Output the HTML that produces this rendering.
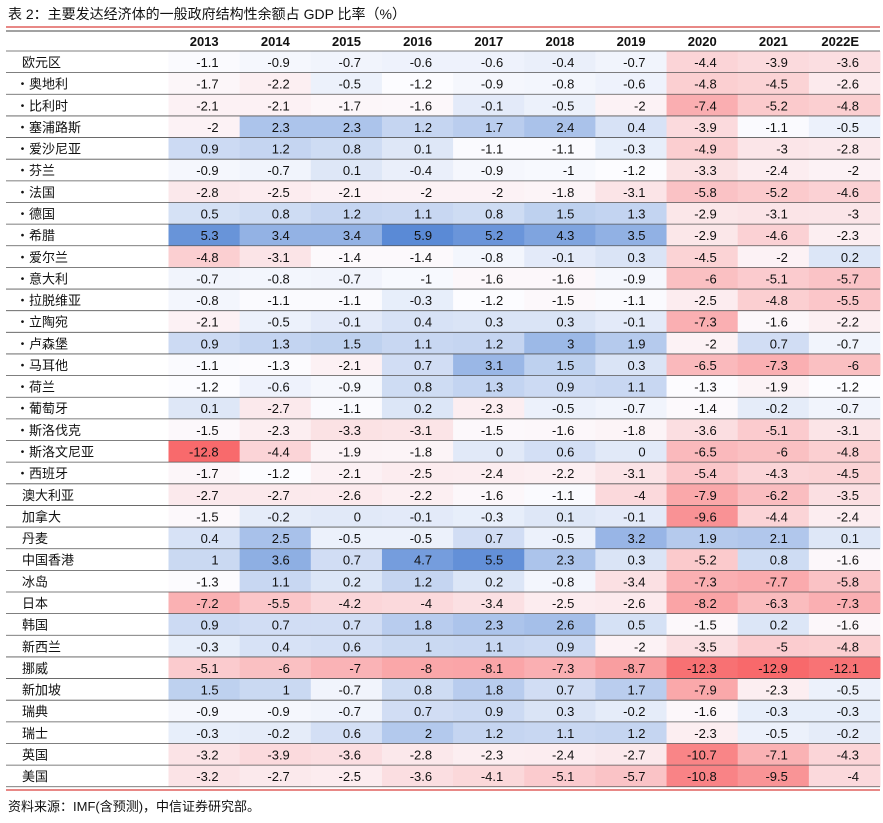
<!DOCTYPE html>
<html><head><meta charset="utf-8">
<style>
html,body{margin:0;padding:0;background:#fff;}
svg{display:block;font-family:"Liberation Sans","Noto Sans CJK SC",sans-serif;}
</style></head>
<body>
<svg id="chart" width="883" height="823" viewBox="0 0 883 823">
<text x="8" y="19" font-size="14" fill="#111">表 2：主要发达经济体的一般政府结构性余额占 GDP 比率（%）</text>
<line x1="6" y1="27" x2="880" y2="27" stroke="#d9413f" stroke-width="1.2"/>
<g id="cells"></g>
<line x1="6" y1="790" x2="880" y2="790" stroke="#d9413f" stroke-width="1.2"/>
<text x="8" y="811" font-size="13" fill="#111">资料来源：IMF(含预测)，中信证券研究部。</text>
</svg>
<script>
const years = ["2013","2014","2015","2016","2017","2018","2019","2020","2021","2022E"];
const countries = ["欧元区","・奥地利","・比利时","・塞浦路斯","・爱沙尼亚","・芬兰","・法国","・德国","・希腊","・爱尔兰","・意大利","・拉脱维亚","・立陶宛","・卢森堡","・马耳他","・荷兰","・葡萄牙","・斯洛伐克","・斯洛文尼亚","・西班牙","澳大利亚","加拿大","丹麦","中国香港","冰岛","日本","韩国","新西兰","挪威","新加坡","瑞典","瑞士","英国","美国"];
const values = [
[-1.1,-0.9,-0.7,-0.6,-0.6,-0.4,-0.7,-4.4,-3.9,-3.6],
[-1.7,-2.2,-0.5,-1.2,-0.9,-0.8,-0.6,-4.8,-4.5,-2.6],
[-2.1,-2.1,-1.7,-1.6,-0.1,-0.5,-2,-7.4,-5.2,-4.8],
[-2,2.3,2.3,1.2,1.7,2.4,0.4,-3.9,-1.1,-0.5],
[0.9,1.2,0.8,0.1,-1.1,-1.1,-0.3,-4.9,-3,-2.8],
[-0.9,-0.7,0.1,-0.4,-0.9,-1,-1.2,-3.3,-2.4,-2],
[-2.8,-2.5,-2.1,-2,-2,-1.8,-3.1,-5.8,-5.2,-4.6],
[0.5,0.8,1.2,1.1,0.8,1.5,1.3,-2.9,-3.1,-3],
[5.3,3.4,3.4,5.9,5.2,4.3,3.5,-2.9,-4.6,-2.3],
[-4.8,-3.1,-1.4,-1.4,-0.8,-0.1,0.3,-4.5,-2,0.2],
[-0.7,-0.8,-0.7,-1,-1.6,-1.6,-0.9,-6,-5.1,-5.7],
[-0.8,-1.1,-1.1,-0.3,-1.2,-1.5,-1.1,-2.5,-4.8,-5.5],
[-2.1,-0.5,-0.1,0.4,0.3,0.3,-0.1,-7.3,-1.6,-2.2],
[0.9,1.3,1.5,1.1,1.2,3,1.9,-2,0.7,-0.7],
[-1.1,-1.3,-2.1,0.7,3.1,1.5,0.3,-6.5,-7.3,-6],
[-1.2,-0.6,-0.9,0.8,1.3,0.9,1.1,-1.3,-1.9,-1.2],
[0.1,-2.7,-1.1,0.2,-2.3,-0.5,-0.7,-1.4,-0.2,-0.7],
[-1.5,-2.3,-3.3,-3.1,-1.5,-1.6,-1.8,-3.6,-5.1,-3.1],
[-12.8,-4.4,-1.9,-1.8,0,0.6,0,-6.5,-6,-4.8],
[-1.7,-1.2,-2.1,-2.5,-2.4,-2.2,-3.1,-5.4,-4.3,-4.5],
[-2.7,-2.7,-2.6,-2.2,-1.6,-1.1,-4,-7.9,-6.2,-3.5],
[-1.5,-0.2,0,-0.1,-0.3,0.1,-0.1,-9.6,-4.4,-2.4],
[0.4,2.5,-0.5,-0.5,0.7,-0.5,3.2,1.9,2.1,0.1],
[1,3.6,0.7,4.7,5.5,2.3,0.3,-5.2,0.8,-1.6],
[-1.3,1.1,0.2,1.2,0.2,-0.8,-3.4,-7.3,-7.7,-5.8],
[-7.2,-5.5,-4.2,-4,-3.4,-2.5,-2.6,-8.2,-6.3,-7.3],
[0.9,0.7,0.7,1.8,2.3,2.6,0.5,-1.5,0.2,-1.6],
[-0.3,0.4,0.6,1,1.1,0.9,-2,-3.5,-5,-4.8],
[-5.1,-6,-7,-8,-8.1,-7.3,-8.7,-12.3,-12.9,-12.1],
[1.5,1,-0.7,0.8,1.8,0.7,1.7,-7.9,-2.3,-0.5],
[-0.9,-0.9,-0.7,0.7,0.9,0.3,-0.2,-1.6,-0.3,-0.3],
[-0.3,-0.2,0.6,2,1.2,1.1,1.2,-2.3,-0.5,-0.2],
[-3.2,-3.9,-3.6,-2.8,-2.3,-2.4,-2.7,-10.7,-7.1,-4.3],
[-3.2,-2.7,-2.5,-3.6,-4.1,-5.1,-5.7,-10.8,-9.5,-4]
];

const NS="http://www.w3.org/2000/svg";
const g=document.getElementById('cells');
const left0=168.5, colW=71.15, headTop=31, rowTop=51, rowH=21.64;
const colX=c=>left0+c*colW;
const rowY=r=>rowTop+r*rowH;
const RED=[248,105,107], WHITE=[252,252,255], BLUE=[90,138,214];
function mix(a,b,t){return 'rgb('+a.map((v,i)=>Math.round(v+(b[i]-v)*t)).join(',')+')';}
const all=values.flat();
const sorted=[...all].sort((a,b)=>a-b);
const gMin=sorted[0], gMax=sorted[sorted.length-1];
const gMid=sorted.length%2?sorted[(sorted.length-1)/2]:(sorted[sorted.length/2-1]+sorted[sorted.length/2])/2;
function colorFor(v){
  if(v<=gMid){const t=(gMid-v)/(gMid-gMin||1);return mix(WHITE,RED,t);}
  const t=(v-gMid)/(gMax-gMid||1);return mix(WHITE,BLUE,t);}
function mk(tag,attrs){const e=document.createElementNS(NS,tag);for(const k in attrs)e.setAttribute(k,attrs[k]);return e;}

years.forEach((y,c)=>{
  const t=mk('text',{x:colX(c)+colW-21,y:headTop+15,'font-size':13,'font-weight':'bold','text-anchor':'end',fill:'#111'});
  t.textContent=y;
  
  
  g.appendChild(t);
});
g.appendChild(mk('line',{x1:6,y1:headTop,x2:880,y2:headTop,stroke:'#444','stroke-width':1}));

countries.forEach((name,r)=>{
  const y=rowY(r);
  values[r].forEach((v,c)=>{
    const rect=mk('rect',{x:colX(c),y:y,width:colW+0.5,height:rowH+0.3,fill:colorFor(v)});
    
    
    g.appendChild(rect);
  });
});
countries.forEach((name,r)=>{
  const y=rowY(r);
  const line=mk('line',{x1:6,y1:y,x2:880,y2:y,stroke:'#555','stroke-width':0.8});
  
  
  g.appendChild(line);
  const lab=mk('text',{x:name.startsWith('・')?16:22,y:y+16,'font-size':13,fill:'#111'});
  lab.textContent=name;
  
  
  g.appendChild(lab);
  values[r].forEach((v,c)=>{
    const t=mk('text',{x:colX(c)+colW-21,y:y+16,'font-size':13,'text-anchor':'end',fill:'#111'});
    t.textContent=String(v);
    
    
    g.appendChild(t);
  });
});
const lastY=rowY(countries.length);
g.appendChild(mk('line',{x1:6,y1:lastY,x2:880,y2:lastY,stroke:'#555','stroke-width':0.8}));
</script>
</body></html>
